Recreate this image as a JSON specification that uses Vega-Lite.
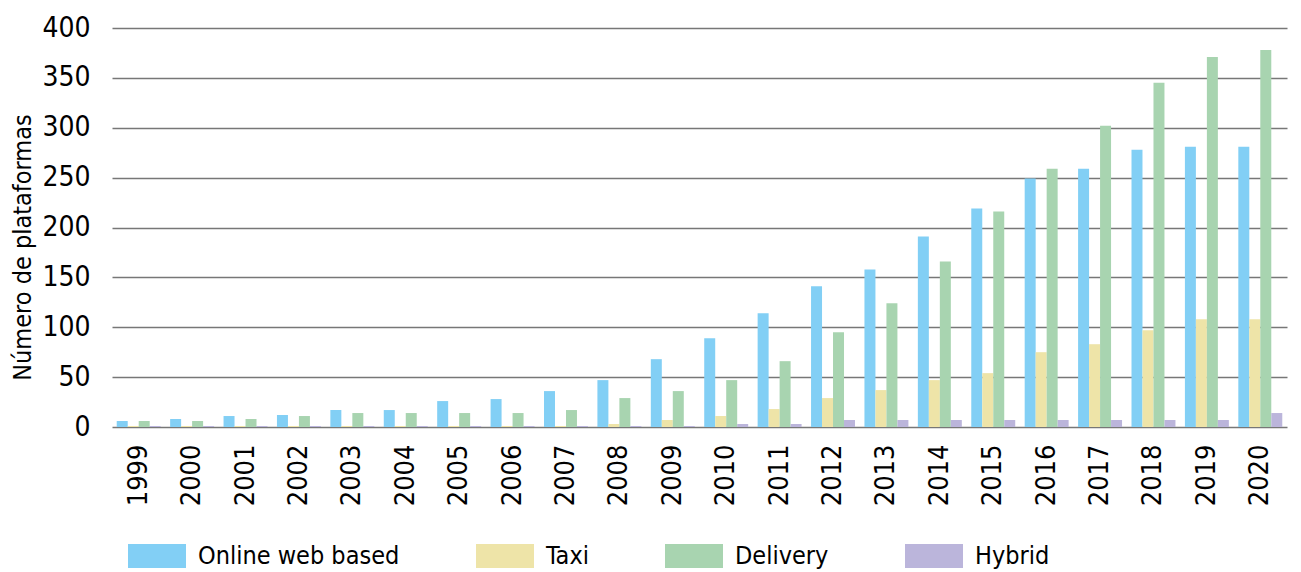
{
  "$schema": "https://vega.github.io/schema/vega-lite/v6.json",
  "autosize": {"type": "none"},
  "padding": {"left": 105, "top": 28, "right": 0, "bottom": 145},
  "width": 1196,
  "height": 399,
  "background": "white",
  "config": {
    "view": {"stroke": null},
    "font": "Liberation Sans Narrow, DejaVu Sans Condensed, Roboto Condensed, Arial Narrow, sans-serif"
  },
  "data": {
    "values": [
      {"year":"1999","type":"Online web based","value":6},{"year":"1999","type":"Taxi","value":1},{"year":"1999","type":"Delivery","value":6},{"year":"1999","type":"Hybrid","value":1},
      {"year":"2000","type":"Online web based","value":8},{"year":"2000","type":"Taxi","value":1},{"year":"2000","type":"Delivery","value":6},{"year":"2000","type":"Hybrid","value":1},
      {"year":"2001","type":"Online web based","value":11},{"year":"2001","type":"Taxi","value":1},{"year":"2001","type":"Delivery","value":8},{"year":"2001","type":"Hybrid","value":1},
      {"year":"2002","type":"Online web based","value":12},{"year":"2002","type":"Taxi","value":1},{"year":"2002","type":"Delivery","value":11},{"year":"2002","type":"Hybrid","value":1},
      {"year":"2003","type":"Online web based","value":17},{"year":"2003","type":"Taxi","value":1},{"year":"2003","type":"Delivery","value":14},{"year":"2003","type":"Hybrid","value":1},
      {"year":"2004","type":"Online web based","value":17},{"year":"2004","type":"Taxi","value":1},{"year":"2004","type":"Delivery","value":14},{"year":"2004","type":"Hybrid","value":1},
      {"year":"2005","type":"Online web based","value":26},{"year":"2005","type":"Taxi","value":1},{"year":"2005","type":"Delivery","value":14},{"year":"2005","type":"Hybrid","value":1},
      {"year":"2006","type":"Online web based","value":28},{"year":"2006","type":"Taxi","value":1},{"year":"2006","type":"Delivery","value":14},{"year":"2006","type":"Hybrid","value":1},
      {"year":"2007","type":"Online web based","value":36},{"year":"2007","type":"Taxi","value":1},{"year":"2007","type":"Delivery","value":17},{"year":"2007","type":"Hybrid","value":1},
      {"year":"2008","type":"Online web based","value":47},{"year":"2008","type":"Taxi","value":3},{"year":"2008","type":"Delivery","value":29},{"year":"2008","type":"Hybrid","value":1},
      {"year":"2009","type":"Online web based","value":68},{"year":"2009","type":"Taxi","value":7},{"year":"2009","type":"Delivery","value":36},{"year":"2009","type":"Hybrid","value":1},
      {"year":"2010","type":"Online web based","value":89},{"year":"2010","type":"Taxi","value":11},{"year":"2010","type":"Delivery","value":47},{"year":"2010","type":"Hybrid","value":3},
      {"year":"2011","type":"Online web based","value":114},{"year":"2011","type":"Taxi","value":18},{"year":"2011","type":"Delivery","value":66},{"year":"2011","type":"Hybrid","value":3},
      {"year":"2012","type":"Online web based","value":141},{"year":"2012","type":"Taxi","value":29},{"year":"2012","type":"Delivery","value":95},{"year":"2012","type":"Hybrid","value":7},
      {"year":"2013","type":"Online web based","value":158},{"year":"2013","type":"Taxi","value":37},{"year":"2013","type":"Delivery","value":124},{"year":"2013","type":"Hybrid","value":7},
      {"year":"2014","type":"Online web based","value":191},{"year":"2014","type":"Taxi","value":47},{"year":"2014","type":"Delivery","value":166},{"year":"2014","type":"Hybrid","value":7},
      {"year":"2015","type":"Online web based","value":219},{"year":"2015","type":"Taxi","value":54},{"year":"2015","type":"Delivery","value":216},{"year":"2015","type":"Hybrid","value":7},
      {"year":"2016","type":"Online web based","value":249},{"year":"2016","type":"Taxi","value":75},{"year":"2016","type":"Delivery","value":259},{"year":"2016","type":"Hybrid","value":7},
      {"year":"2017","type":"Online web based","value":259},{"year":"2017","type":"Taxi","value":83},{"year":"2017","type":"Delivery","value":302},{"year":"2017","type":"Hybrid","value":7},
      {"year":"2018","type":"Online web based","value":278},{"year":"2018","type":"Taxi","value":97},{"year":"2018","type":"Delivery","value":345},{"year":"2018","type":"Hybrid","value":7},
      {"year":"2019","type":"Online web based","value":281},{"year":"2019","type":"Taxi","value":108},{"year":"2019","type":"Delivery","value":371},{"year":"2019","type":"Hybrid","value":7},
      {"year":"2020","type":"Online web based","value":281},{"year":"2020","type":"Taxi","value":108},{"year":"2020","type":"Delivery","value":378},{"year":"2020","type":"Hybrid","value":14}
    ]
  },
  "mark": {"type": "bar"},
  "encoding": {
    "x": {
      "field": "year", "type": "nominal", "title": null,
      "scale": {"range": [7, 1182], "paddingInner": 0, "paddingOuter": 0},
      "axis": {"labelAngle": -90, "labelFontSize": 27, "labelColor": "#000000", "labelPadding": 17, "ticks": false, "tickSize": 0, "domain": false, "grid": false}
    },
    "xOffset": {
      "field": "type", "type": "nominal",
      "sort": ["Online web based", "Taxi", "Delivery", "Hybrid"],
      "scale": {"paddingInner": 0, "paddingOuter": 0.43}
    },
    "y": {
      "field": "value", "type": "quantitative",
      "scale": {"domain": [0, 400]},
      "axis": {
        "values": [0, 50, 100, 150, 200, 250, 300, 350, 400],
        "title": "Número de plataformas",
        "titleFontSize": 25, "titleFontWeight": "normal", "titleColor": "#000000",
        "titleX": -83, "titleY": 219, "titleBaseline": "middle", "titleAlign": "center", "titleAngle": -90,
        "labelFontSize": 28, "labelColor": "#000000", "labelPadding": 15,
        "ticks": false, "tickSize": 0, "domain": false,
        "grid": true, "gridColor": "#777777", "gridWidth": 1.5
      }
    },
    "color": {
      "field": "type", "type": "nominal",
      "sort": ["Online web based", "Taxi", "Delivery", "Hybrid"],
      "scale": {"domain": ["Online web based", "Taxi", "Delivery", "Hybrid"], "range": ["#82CFF5", "#EEE4A8", "#A8D4B0", "#BBB5DB"]},
      "legend": {
        "title": null, "orient": "none", "direction": "horizontal", "columns": 4,
        "legendX": 23, "legendY": 499, "padding": 0,
        "symbolType": "M-1,-0.414H1V0.414H-1Z", "symbolSize": 3364, "symbolStrokeWidth": 0, "symbolOpacity": 1,
        "labelFontSize": 25, "labelColor": "#000000", "labelOffset": 12, "columnPadding": 76, "labelLimit": 400
      }
    }
  }
}
